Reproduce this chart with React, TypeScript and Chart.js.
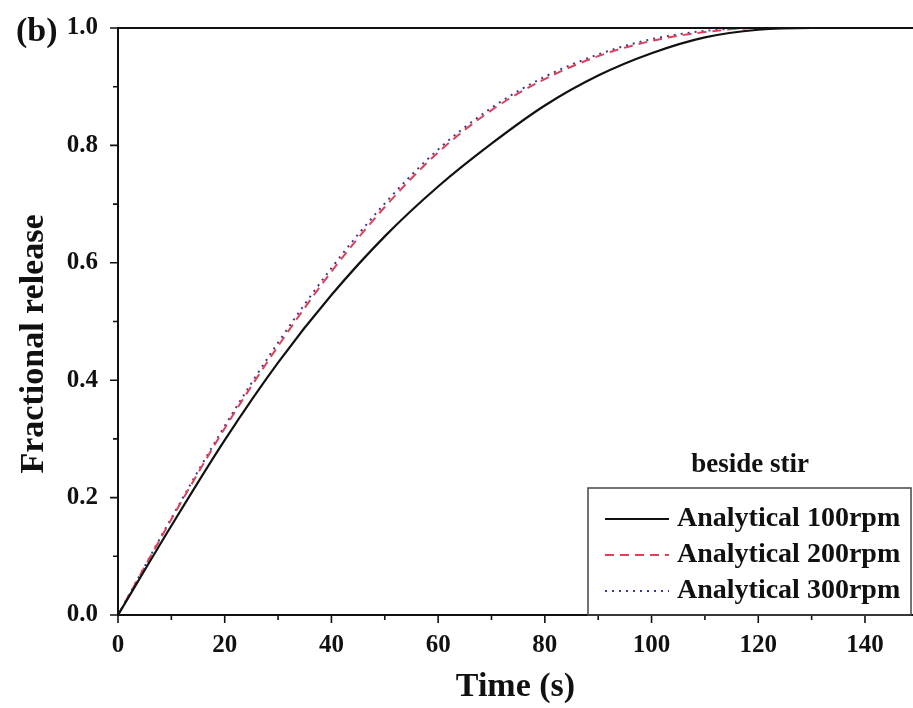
import React, { useEffect, useRef } from "react";
import { Chart, registerables } from "chart.js";

Chart.register(...registerables);

const times = [0, 10, 20, 30, 40, 50, 60, 70, 80, 90, 100, 110, 120, 130, 140, 149];
const release100 = [0, 0.152, 0.298, 0.43, 0.545, 0.645, 0.73, 0.803, 0.868, 0.919, 0.957, 0.984, 0.997, 1.0, 1.0, 1.0];
const release200 = [0, 0.163, 0.318, 0.458, 0.585, 0.695, 0.788, 0.86, 0.913, 0.952, 0.978, 0.993, 1.0, 1.0, 1.0, 1.0];
const release300 = [0, 0.165, 0.322, 0.464, 0.591, 0.701, 0.793, 0.864, 0.917, 0.955, 0.981, 0.995, 1.0, 1.0, 1.0, 1.0];
const seriesLabels = ["Analytical 100rpm", "Analytical 200rpm", "Analytical 300rpm"];
const xMajorTicks = [0, 20, 40, 60, 80, 100, 120, 140];
const yMajorTicks = [0, 0.2, 0.4, 0.6, 0.8, 1.0];
const yTitle = "Fractional release";
const xTitle = "Time (s)";
const legendTitle = "beside stir";
const panelLabel = "(b)";

const FONT = "'Liberation Serif', 'Times New Roman', serif";

const decorPlugin = {
  id: "decor",
  afterDraw(chart: any) {
    const { ctx, chartArea } = chart;
    const xs = chart.scales.x;
    const ys = chart.scales.y;
    const { left, right, top, bottom } = chartArea;
    ctx.save();
    ctx.strokeStyle = "#111";
    ctx.lineWidth = 2;
    ctx.beginPath();
    ctx.moveTo(left, top);
    ctx.lineTo(left, bottom);
    ctx.moveTo(left - 1, bottom);
    ctx.lineTo(right, bottom);
    ctx.moveTo(left - 1, top);
    ctx.lineTo(right, top);
    ctx.stroke();
    // ticks
    ctx.lineWidth = 1.6;
    ctx.beginPath();
    for (let v = 0; v <= 140; v += 10) {
      const px = xs.getPixelForValue(v);
      const len = xMajorTicks.includes(v) ? 8 : 5;
      ctx.moveTo(px, bottom);
      ctx.lineTo(px, bottom + len);
    }
    for (let i = 0; i <= 10; i++) {
      const v = i / 10;
      const py = ys.getPixelForValue(v);
      const len = i % 2 === 0 ? 8 : 5;
      ctx.moveTo(left, py);
      ctx.lineTo(left - len, py);
    }
    ctx.stroke();

    ctx.fillStyle = "#111";
    // y title
    ctx.save();
    ctx.translate(34, 344);
    ctx.rotate(-Math.PI / 2);
    ctx.font = `bold 34px ${FONT}`;
    ctx.textAlign = "center";
    ctx.textBaseline = "middle";
    ctx.fillText(yTitle, 0, 0);
    ctx.restore();

    // panel label
    ctx.font = `bold 34px ${FONT}`;
    ctx.textAlign = "left";
    ctx.textBaseline = "middle";
    ctx.fillText(panelLabel, 16, 32);

    // legend title
    ctx.font = `bold 27px ${FONT}`;
    ctx.textAlign = "center";
    ctx.fillText(legendTitle, 750, 465);

    // legend box
    const bx = 588, by = 488;
    ctx.strokeStyle = "#444";
    ctx.lineWidth = 1.5;
    ctx.strokeRect(bx, by, 913 - bx - 2, bottom - by);

    const rows = [519, 555, 591];
    chart.data.datasets.forEach((ds: any, i: number) => {
      const y = rows[i];
      ctx.strokeStyle = ds.borderColor;
      ctx.lineWidth = ds.borderWidth;
      ctx.setLineDash(ds.borderDash || []);
      ctx.beginPath();
      ctx.moveTo(605, y);
      ctx.lineTo(669, y);
      ctx.stroke();
      ctx.setLineDash([]);
      ctx.fillStyle = "#111";
      ctx.font = `bold 28px ${FONT}`;
      ctx.textAlign = "left";
      ctx.textBaseline = "middle";
      ctx.fillText(ds.label, 677, y);
    });
    ctx.restore();
  },
};

export default function App() {
  const canvasRef = useRef<HTMLCanvasElement | null>(null);

  useEffect(() => {
    const canvas = canvasRef.current;
    if (!canvas) return;
    const mk = (vals: number[]) => times.map((t, i) => ({ x: t, y: vals[i] }));
    const chart = new Chart(canvas, {
      type: "line",
      data: {
        datasets: [
          {
            label: seriesLabels[0],
            data: mk(release100),
            borderColor: "#111111",
            borderWidth: 2.2,
            pointRadius: 0,
            cubicInterpolationMode: "monotone",
            fill: false,
          },
          {
            label: seriesLabels[1],
            data: mk(release200),
            borderColor: "#e0405a",
            borderWidth: 2,
            borderDash: [9, 6],
            pointRadius: 0,
            cubicInterpolationMode: "monotone",
            fill: false,
          },
          {
            label: seriesLabels[2],
            data: mk(release300),
            borderColor: "#3a3a8c",
            borderWidth: 2,
            borderDash: [2, 5],
            pointRadius: 0,
            cubicInterpolationMode: "monotone",
            fill: false,
          },
        ],
      },
      options: {
        responsive: false,
        animation: false,
        devicePixelRatio: 1,
        layout: { padding: { left: 0, top: 28, right: 0, bottom: 0 } },
        plugins: { legend: { display: false }, tooltip: { enabled: false } },
        scales: {
          x: {
            type: "linear",
            min: 0,
            max: 149,
            grid: { display: false, drawTicks: false },
            border: { display: false },
            ticks: {
              stepSize: 20,
              includeBounds: false,
              padding: 16,
              color: "#111",
              font: { family: FONT, size: 25, weight: "bold" },
              maxRotation: 0,
            },
            title: {
              display: true,
              text: xTitle,
              color: "#111",
              font: { family: FONT, size: 34, weight: "bold", lineHeight: 1.2 },
              padding: { top: 0, bottom: 0 },
            },
            afterFit: (scale: any) => {
              scale.height = 93;
              scale.paddingLeft = 0;
              scale.paddingRight = 0;
            },
          },
          y: {
            type: "linear",
            min: 0,
            max: 1,
            grid: { display: false, drawTicks: false },
            border: { display: false },
            afterBuildTicks: (scale: any) => {
              scale.ticks = yMajorTicks.map((v) => ({ value: v }));
            },
            ticks: {
              padding: 20,
              color: "#111",
              font: { family: FONT, size: 25, weight: "bold" },
              callback: (v: any) => Number(v).toFixed(1),
            },
            title: { display: false },
            afterFit: (scale: any) => {
              scale.width = 118;
              scale.paddingTop = 0;
              scale.paddingBottom = 0;
            },
          },
        },
      },
      plugins: [decorPlugin],
    } as any);
    return () => chart.destroy();
  }, []);

  return (
    <div style={{ position: "fixed", left: 0, top: 0, width: 913, height: 708, background: "#fff" }}>
      <canvas ref={canvasRef} width={913} height={708} style={{ display: "block" }} />
    </div>
  );
}
